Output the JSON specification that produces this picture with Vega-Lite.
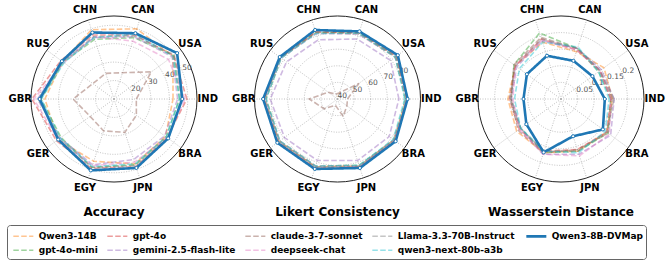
{
"$schema": "https://vega.github.io/schema/vega-lite/v6.json",
"padding": {"left": 6, "top": 0, "right": 0, "bottom": 0},
"spacing": 10.5,
"config": {
  "font": "DejaVu Sans",
  "view": {"stroke": null},
  "legend": {"orient": "none", "legendX": 0, "legendY": 225, "direction": "horizontal", "columns": 5, "gridAlign": "each",
    "labelFont": "DejaVu Sans", "labelFontSize": 9, "labelFontWeight": "bold", "labelColor": "black", "labelLimit": 300,
    "symbolType": "M-0.7,0H2.3", "symbolSize": 178, "labelOffset": 12.7, "columnPadding": 6, "rowPadding": 0.7, "padding": 3,
    "strokeColor": "#666", "cornerRadius": 3, "fillColor": "white", "symbolStrokeWidth": 1.6}
},
"datasets": {
  "countries": [{"c":"IND"},{"c":"USA"},{"c":"CAN"},{"c":"CHN"},{"c":"RUS"},{"c":"GBR"},{"c":"GER"},{"c":"EGY"},{"c":"JPN"},{"c":"BRA"}],
  "acc": [
    {"m":"Qwen3-14B","IND":42.0,"USA":49.5,"CAN":50.0,"CHN":49.5,"RUS":44.5,"GBR":47.5,"GER":47.5,"EGY":45.5,"JPN":47.0,"BRA":44.5},
    {"m":"gpt-4o-mini","IND":45.5,"USA":50.0,"CAN":45.0,"CHN":44.0,"RUS":44.0,"GBR":49.5,"GER":45.5,"EGY":49.0,"JPN":47.5,"BRA":45.0},
    {"m":"gpt-4o","IND":49.5,"USA":50.0,"CAN":46.5,"CHN":46.5,"RUS":45.5,"GBR":54.5,"GER":48.5,"EGY":49.5,"JPN":48.5,"BRA":45.5},
    {"m":"gemini-2.5-flash-lite","IND":44.5,"USA":49.0,"CAN":45.5,"CHN":45.0,"RUS":44.5,"GBR":51.5,"GER":46.0,"EGY":47.5,"JPN":44.5,"BRA":44.0},
    {"m":"claude-3-7-sonnet","IND":22.1,"USA":35.0,"CAN":25.0,"CHN":24.6,"RUS":24.2,"GBR":32.2,"GER":26.0,"EGY":28.2,"JPN":29.0,"BRA":25.0},
    {"m":"deepseek-chat","IND":48.5,"USA":46.5,"CAN":43.0,"CHN":45.5,"RUS":43.5,"GBR":53.5,"GER":47.5,"EGY":48.0,"JPN":46.0,"BRA":45.5},
    {"m":"Llama-3.3-70B-Instruct","IND":46.5,"USA":50.5,"CAN":46.0,"CHN":45.5,"RUS":44.5,"GBR":51.0,"GER":46.5,"EGY":49.0,"JPN":48.0,"BRA":46.5},
    {"m":"qwen3-next-80b-a3b","IND":45.5,"USA":49.5,"CAN":47.0,"CHN":45.0,"RUS":43.5,"GBR":49.5,"GER":46.0,"EGY":48.5,"JPN":47.0,"BRA":45.0},
    {"m":"Qwen3-8B-DVMap","IND":47.0,"USA":52.3,"CAN":47.5,"CHN":47.9,"RUS":44.9,"GBR":50.3,"GER":47.4,"EGY":50.7,"JPN":49.3,"BRA":46.3}
  ],
  "lik": [
    {"m":"Qwen3-14B","IND":81.5,"USA":83.5,"CAN":82.0,"CHN":82.5,"RUS":82.5,"GBR":84.0,"GER":83.5,"EGY":83.0,"JPN":82.5,"BRA":82.0},
    {"m":"gpt-4o-mini","IND":81.0,"USA":83.0,"CAN":81.5,"CHN":82.0,"RUS":82.0,"GBR":83.0,"GER":83.0,"EGY":82.5,"JPN":82.0,"BRA":82.0},
    {"m":"gpt-4o","IND":82.0,"USA":84.0,"CAN":82.0,"CHN":82.5,"RUS":82.5,"GBR":84.5,"GER":84.0,"EGY":83.5,"JPN":83.0,"BRA":82.5},
    {"m":"gemini-2.5-flash-lite","IND":77.0,"USA":79.5,"CAN":78.0,"CHN":77.5,"RUS":78.0,"GBR":80.5,"GER":79.5,"EGY":79.0,"JPN":79.0,"BRA":78.5},
    {"m":"claude-3-7-sonnet","IND":46,"USA":56,"CAN":44,"CHN":43,"RUS":47,"GBR":57,"GER":50,"EGY":44,"JPN":51,"BRA":47},
    {"m":"deepseek-chat","IND":81.5,"USA":83.0,"CAN":81.0,"CHN":81.5,"RUS":82.0,"GBR":83.5,"GER":83.0,"EGY":82.5,"JPN":82.5,"BRA":82.0},
    {"m":"Llama-3.3-70B-Instruct","IND":82.5,"USA":83.5,"CAN":82.0,"CHN":82.0,"RUS":82.5,"GBR":83.5,"GER":83.5,"EGY":83.0,"JPN":82.5,"BRA":82.0},
    {"m":"qwen3-next-80b-a3b","IND":80.5,"USA":83.0,"CAN":81.5,"CHN":81.5,"RUS":82.0,"GBR":83.0,"GER":83.0,"EGY":82.5,"JPN":82.0,"BRA":81.5},
    {"m":"Qwen3-8B-DVMap","IND":82.2,"USA":84.9,"CAN":82.8,"CHN":83.7,"RUS":83.0,"GBR":84.8,"GER":84.8,"EGY":84.3,"JPN":83.7,"BRA":83.3}
  ],
  "was": [
    {"m":"Qwen3-14B","IND":0.155,"USA":0.160,"CAN":0.150,"CHN":0.180,"RUS":0.170,"GBR":0.160,"GER":0.165,"EGY":0.170,"JPN":0.165,"BRA":0.170},
    {"m":"gpt-4o-mini","IND":0.150,"USA":0.140,"CAN":0.160,"CHN":0.209,"RUS":0.175,"GBR":0.150,"GER":0.150,"EGY":0.170,"JPN":0.165,"BRA":0.175},
    {"m":"gpt-4o","IND":0.150,"USA":0.145,"CAN":0.155,"CHN":0.190,"RUS":0.170,"GBR":0.155,"GER":0.155,"EGY":0.165,"JPN":0.160,"BRA":0.170},
    {"m":"gemini-2.5-flash-lite","IND":0.160,"USA":0.150,"CAN":0.160,"CHN":0.185,"RUS":0.165,"GBR":0.150,"GER":0.150,"EGY":0.175,"JPN":0.175,"BRA":0.185},
    {"m":"claude-3-7-sonnet","IND":0.155,"USA":0.145,"CAN":0.160,"CHN":0.195,"RUS":0.175,"GBR":0.150,"GER":0.160,"EGY":0.170,"JPN":0.160,"BRA":0.175},
    {"m":"deepseek-chat","IND":0.150,"USA":0.145,"CAN":0.155,"CHN":0.185,"RUS":0.170,"GBR":0.145,"GER":0.155,"EGY":0.175,"JPN":0.180,"BRA":0.180},
    {"m":"Llama-3.3-70B-Instruct","IND":0.160,"USA":0.145,"CAN":0.160,"CHN":0.190,"RUS":0.170,"GBR":0.155,"GER":0.150,"EGY":0.165,"JPN":0.165,"BRA":0.170},
    {"m":"qwen3-next-80b-a3b","IND":0.145,"USA":0.140,"CAN":0.165,"CHN":0.180,"RUS":0.155,"GBR":0.140,"GER":0.150,"EGY":0.165,"JPN":0.170,"BRA":0.165},
    {"m":"Qwen3-8B-DVMap","IND":0.132,"USA":0.117,"CAN":0.121,"CHN":0.137,"RUS":0.127,"GBR":0.113,"GER":0.129,"EGY":0.169,"JPN":0.118,"BRA":0.156}
  ]
},
"resolve": {"scale": {"x": "independent", "y": "independent", "size": "independent", "color": "shared", "strokeDash": "shared", "strokeWidth": "shared", "opacity": "shared"}},
"hconcat": [
 {
  "width": 214, "height": 198,
  "title": {"text": "Accuracy", "orient": "bottom", "offset": 9, "fontSize": 12, "fontWeight": "bold", "font": "DejaVu Sans", "color": "black"},
  "layer": [
   {"data": {"values": [{"t":20},{"t":30},{"t":40},{"t":50}]},
    "transform": [{"calculate": "(datum.t - 10) / 45", "as": "d"}, {"calculate": "0", "as": "z"}],
    "mark": {"type": "point", "shape": "circle", "filled": false, "stroke": "#b0b0b0", "strokeDash": [1, 1.5], "strokeWidth": 0.8, "opacity": 1},
    "encoding": {"x": {"field": "z", "type": "quantitative", "scale": {"domain": [-1.28916, 1.28916], "nice": false, "zero": false}, "axis": null},
                 "y": {"field": "z", "type": "quantitative", "scale": {"domain": [-1.19277, 1.19277], "nice": false, "zero": false}, "axis": null},
                 "size": {"field": "d", "type": "quantitative", "legend": null, "scale": {"type": "pow", "exponent": 2, "domain": [0, 1], "range": [0, 27556]}}}},
   {"data": {"values": [{"t":55}]},
    "transform": [{"calculate": "(datum.t - 10) / 45", "as": "d"}, {"calculate": "0", "as": "z"}],
    "mark": {"type": "point", "shape": "circle", "filled": false, "stroke": "#222", "strokeWidth": 1, "opacity": 1},
    "encoding": {"x": {"field": "z", "type": "quantitative", "scale": {"domain": [-1.28916, 1.28916], "nice": false, "zero": false}, "axis": null},
                 "y": {"field": "z", "type": "quantitative", "scale": {"domain": [-1.19277, 1.19277], "nice": false, "zero": false}, "axis": null},
                 "size": {"field": "d", "type": "quantitative", "legend": null, "scale": {"type": "pow", "exponent": 2, "domain": [0, 1], "range": [0, 27556]}}}},
   {"data": {"name": "countries"},
    "transform": [{"calculate": "indexof(['IND','USA','CAN','CHN','RUS','GBR','GER','EGY','JPN','BRA'], datum.c) * PI / 5", "as": "a"},
                  {"calculate": "cos(datum.a)", "as": "x"}, {"calculate": "sin(datum.a)", "as": "y"}, {"calculate": "0", "as": "z"}],
    "mark": {"type": "rule", "stroke": "#b0b0b0", "strokeDash": [1, 1.5], "strokeWidth": 0.8},
    "encoding": {"x": {"field": "z", "type": "quantitative", "scale": {"domain": [-1.28916, 1.28916], "nice": false, "zero": false}, "axis": null},
                 "y": {"field": "z", "type": "quantitative", "scale": {"domain": [-1.19277, 1.19277], "nice": false, "zero": false}, "axis": null},
                 "x2": {"field": "x"}, "y2": {"field": "y"}}},
   {"data": {"name": "countries"},
    "transform": [{"calculate": "indexof(['IND','USA','CAN','CHN','RUS','GBR','GER','EGY','JPN','BRA'], datum.c) * PI / 5", "as": "a"},
                  {"calculate": "1.13 * cos(datum.a)", "as": "x"}, {"calculate": "1.13 * sin(datum.a)", "as": "y"}],
    "mark": {"type": "text", "fontSize": 10, "fontWeight": "bold", "color": "black", "align": "center", "baseline": "middle"},
    "encoding": {"x": {"field": "x", "type": "quantitative", "scale": {"domain": [-1.28916, 1.28916], "nice": false, "zero": false}, "axis": null},
                 "y": {"field": "y", "type": "quantitative", "scale": {"domain": [-1.19277, 1.19277], "nice": false, "zero": false}, "axis": null},
                 "text": {"field": "c", "type": "nominal"}}},
   {"data": {"values": [{"t":20},{"t":30},{"t":40},{"t":50}]},
    "transform": [{"calculate": "(datum.t - 10) / 45", "as": "d"},
                  {"calculate": "datum.d * cos(PI / 8)", "as": "x"}, {"calculate": "datum.d * sin(PI / 8)", "as": "y"}],
    "mark": {"type": "text", "fontSize": 7.5, "color": "#555", "align": "left", "baseline": "bottom", "dy": 1},
    "encoding": {"x": {"field": "x", "type": "quantitative", "scale": {"domain": [-1.28916, 1.28916], "nice": false, "zero": false}, "axis": null},
                 "y": {"field": "y", "type": "quantitative", "scale": {"domain": [-1.19277, 1.19277], "nice": false, "zero": false}, "axis": null},
                 "text": {"field": "t", "type": "quantitative", "format": "~g"}}},
   {"data": {"name": "acc"},
    "transform": [{"fold": ["IND","USA","CAN","CHN","RUS","GBR","GER","EGY","JPN","BRA"], "as": ["country", "value"]},
                  {"calculate": "indexof(['IND','USA','CAN','CHN','RUS','GBR','GER','EGY','JPN','BRA'], datum.country)", "as": "i"},
                  {"calculate": "(datum.value - 10) / 45", "as": "d"},
                  {"calculate": "datum.d * cos(datum.i * PI / 5)", "as": "x"},
                  {"calculate": "datum.d * sin(datum.i * PI / 5)", "as": "y"}],
    "encoding": {"x": {"field": "x", "type": "quantitative", "scale": {"domain": [-1.28916, 1.28916], "nice": false, "zero": false}, "axis": null},
                 "y": {"field": "y", "type": "quantitative", "scale": {"domain": [-1.19277, 1.19277], "nice": false, "zero": false}, "axis": null}},
    "layer": [
     {"transform": [{"filter": "datum.m != 'Qwen3-8B-DVMap'"}],
      "mark": {"type": "line", "interpolate": "linear-closed"},
      "encoding": {
        "color": {"field": "m", "type": "nominal", "title": null, "scale": {"domain": ["Qwen3-14B","gpt-4o","claude-3-7-sonnet","Llama-3.3-70B-Instruct","Qwen3-8B-DVMap","gpt-4o-mini","gemini-2.5-flash-lite","deepseek-chat","qwen3-next-80b-a3b"], "range": ["#ff7f0e","#d62728","#8c564b","#7f7f7f","#1f77b4","#2ca02c","#9467bd","#e377c2","#17becf"]}},
        "strokeDash": {"field": "m", "type": "nominal", "title": null, "scale": {"domain": ["Qwen3-14B","gpt-4o","claude-3-7-sonnet","Llama-3.3-70B-Instruct","Qwen3-8B-DVMap","gpt-4o-mini","gemini-2.5-flash-lite","deepseek-chat","qwen3-next-80b-a3b"], "range": [[5.5,2.4],[5.5,2.4],[5.5,2.4],[5.5,2.4],[1,0],[5.5,2.4],[5.5,2.4],[5.5,2.4],[5.5,2.4]]}},
        "strokeWidth": {"field": "m", "type": "nominal", "title": null, "scale": {"type": "ordinal", "domain": ["Qwen3-14B","gpt-4o","claude-3-7-sonnet","Llama-3.3-70B-Instruct","Qwen3-8B-DVMap","gpt-4o-mini","gemini-2.5-flash-lite","deepseek-chat","qwen3-next-80b-a3b"], "range": [1.6,1.6,1.6,1.6,2.6,1.6,1.6,1.6,1.6]}},
        "opacity": {"field": "m", "type": "nominal", "title": null, "scale": {"type": "ordinal", "domain": ["Qwen3-14B","gpt-4o","claude-3-7-sonnet","Llama-3.3-70B-Instruct","Qwen3-8B-DVMap","gpt-4o-mini","gemini-2.5-flash-lite","deepseek-chat","qwen3-next-80b-a3b"], "range": [0.45,0.45,0.45,0.45,1,0.45,0.45,0.45,0.45]}},
        "order": {"field": "i", "type": "quantitative"}}},
     {"transform": [{"filter": "datum.m == 'Qwen3-8B-DVMap'"}],
      "mark": {"type": "line", "interpolate": "linear-closed"},
      "encoding": {
        "color": {"field": "m", "type": "nominal", "title": null, "scale": {"domain": ["Qwen3-14B","gpt-4o","claude-3-7-sonnet","Llama-3.3-70B-Instruct","Qwen3-8B-DVMap","gpt-4o-mini","gemini-2.5-flash-lite","deepseek-chat","qwen3-next-80b-a3b"], "range": ["#ff7f0e","#d62728","#8c564b","#7f7f7f","#1f77b4","#2ca02c","#9467bd","#e377c2","#17becf"]}},
        "strokeDash": {"field": "m", "type": "nominal", "title": null, "scale": {"domain": ["Qwen3-14B","gpt-4o","claude-3-7-sonnet","Llama-3.3-70B-Instruct","Qwen3-8B-DVMap","gpt-4o-mini","gemini-2.5-flash-lite","deepseek-chat","qwen3-next-80b-a3b"], "range": [[5.5,2.4],[5.5,2.4],[5.5,2.4],[5.5,2.4],[1,0],[5.5,2.4],[5.5,2.4],[5.5,2.4],[5.5,2.4]]}},
        "strokeWidth": {"field": "m", "type": "nominal", "title": null, "scale": {"type": "ordinal", "domain": ["Qwen3-14B","gpt-4o","claude-3-7-sonnet","Llama-3.3-70B-Instruct","Qwen3-8B-DVMap","gpt-4o-mini","gemini-2.5-flash-lite","deepseek-chat","qwen3-next-80b-a3b"], "range": [1.6,1.6,1.6,1.6,2.6,1.6,1.6,1.6,1.6]}},
        "opacity": {"field": "m", "type": "nominal", "title": null, "scale": {"type": "ordinal", "domain": ["Qwen3-14B","gpt-4o","claude-3-7-sonnet","Llama-3.3-70B-Instruct","Qwen3-8B-DVMap","gpt-4o-mini","gemini-2.5-flash-lite","deepseek-chat","qwen3-next-80b-a3b"], "range": [0.45,0.45,0.45,0.45,1,0.45,0.45,0.45,0.45]}},
        "order": {"field": "i", "type": "quantitative"}}},
     {"transform": [{"filter": "datum.m == 'Qwen3-8B-DVMap'"}],
      "mark": {"type": "point", "shape": "circle", "filled": true, "fill": "white", "stroke": "#1f77b4", "strokeWidth": 1, "size": 10, "opacity": 1}}
    ]}
  ]
 },
 {
  "width": 212, "height": 198,
  "title": {"text": "Likert Consistency", "orient": "bottom", "offset": 9, "fontSize": 12, "fontWeight": "bold", "font": "DejaVu Sans", "color": "black"},
  "layer": [
   {"data": {"values": [{"t":40},{"t":50},{"t":60},{"t":70},{"t":80}]},
    "transform": [{"calculate": "(datum.t - 40) / 50", "as": "d"}, {"calculate": "0", "as": "z"}],
    "mark": {"type": "point", "shape": "circle", "filled": false, "stroke": "#b0b0b0", "strokeDash": [1, 1.5], "strokeWidth": 0.8, "opacity": 1},
    "encoding": {"x": {"field": "z", "type": "quantitative", "scale": {"domain": [-1.27711, 1.27711], "nice": false, "zero": false}, "axis": null},
                 "y": {"field": "z", "type": "quantitative", "scale": {"domain": [-1.19277, 1.19277], "nice": false, "zero": false}, "axis": null},
                 "size": {"field": "d", "type": "quantitative", "legend": null, "scale": {"type": "pow", "exponent": 2, "domain": [0, 1], "range": [0, 27556]}}}},
   {"data": {"values": [{"t":90}]},
    "transform": [{"calculate": "(datum.t - 40) / 50", "as": "d"}, {"calculate": "0", "as": "z"}],
    "mark": {"type": "point", "shape": "circle", "filled": false, "stroke": "#222", "strokeWidth": 1, "opacity": 1},
    "encoding": {"x": {"field": "z", "type": "quantitative", "scale": {"domain": [-1.27711, 1.27711], "nice": false, "zero": false}, "axis": null},
                 "y": {"field": "z", "type": "quantitative", "scale": {"domain": [-1.19277, 1.19277], "nice": false, "zero": false}, "axis": null},
                 "size": {"field": "d", "type": "quantitative", "legend": null, "scale": {"type": "pow", "exponent": 2, "domain": [0, 1], "range": [0, 27556]}}}},
   {"data": {"name": "countries"},
    "transform": [{"calculate": "indexof(['IND','USA','CAN','CHN','RUS','GBR','GER','EGY','JPN','BRA'], datum.c) * PI / 5", "as": "a"},
                  {"calculate": "cos(datum.a)", "as": "x"}, {"calculate": "sin(datum.a)", "as": "y"}, {"calculate": "0", "as": "z"}],
    "mark": {"type": "rule", "stroke": "#b0b0b0", "strokeDash": [1, 1.5], "strokeWidth": 0.8},
    "encoding": {"x": {"field": "z", "type": "quantitative", "scale": {"domain": [-1.27711, 1.27711], "nice": false, "zero": false}, "axis": null},
                 "y": {"field": "z", "type": "quantitative", "scale": {"domain": [-1.19277, 1.19277], "nice": false, "zero": false}, "axis": null},
                 "x2": {"field": "x"}, "y2": {"field": "y"}}},
   {"data": {"name": "countries"},
    "transform": [{"calculate": "indexof(['IND','USA','CAN','CHN','RUS','GBR','GER','EGY','JPN','BRA'], datum.c) * PI / 5", "as": "a"},
                  {"calculate": "1.13 * cos(datum.a)", "as": "x"}, {"calculate": "1.13 * sin(datum.a)", "as": "y"}],
    "mark": {"type": "text", "fontSize": 10, "fontWeight": "bold", "color": "black", "align": "center", "baseline": "middle"},
    "encoding": {"x": {"field": "x", "type": "quantitative", "scale": {"domain": [-1.27711, 1.27711], "nice": false, "zero": false}, "axis": null},
                 "y": {"field": "y", "type": "quantitative", "scale": {"domain": [-1.19277, 1.19277], "nice": false, "zero": false}, "axis": null},
                 "text": {"field": "c", "type": "nominal"}}},
   {"data": {"values": [{"t":40},{"t":50},{"t":60},{"t":70},{"t":80}]},
    "transform": [{"calculate": "(datum.t - 40) / 50", "as": "d"},
                  {"calculate": "datum.d * cos(PI / 8)", "as": "x"}, {"calculate": "datum.d * sin(PI / 8)", "as": "y"}],
    "mark": {"type": "text", "fontSize": 7.5, "color": "#555", "align": "left", "baseline": "bottom", "dy": 1},
    "encoding": {"x": {"field": "x", "type": "quantitative", "scale": {"domain": [-1.27711, 1.27711], "nice": false, "zero": false}, "axis": null},
                 "y": {"field": "y", "type": "quantitative", "scale": {"domain": [-1.19277, 1.19277], "nice": false, "zero": false}, "axis": null},
                 "text": {"field": "t", "type": "quantitative", "format": "~g"}}},
   {"data": {"name": "lik"},
    "transform": [{"fold": ["IND","USA","CAN","CHN","RUS","GBR","GER","EGY","JPN","BRA"], "as": ["country", "value"]},
                  {"calculate": "indexof(['IND','USA','CAN','CHN','RUS','GBR','GER','EGY','JPN','BRA'], datum.country)", "as": "i"},
                  {"calculate": "(datum.value - 40) / 50", "as": "d"},
                  {"calculate": "datum.d * cos(datum.i * PI / 5)", "as": "x"},
                  {"calculate": "datum.d * sin(datum.i * PI / 5)", "as": "y"}],
    "encoding": {"x": {"field": "x", "type": "quantitative", "scale": {"domain": [-1.27711, 1.27711], "nice": false, "zero": false}, "axis": null},
                 "y": {"field": "y", "type": "quantitative", "scale": {"domain": [-1.19277, 1.19277], "nice": false, "zero": false}, "axis": null}},
    "layer": [
     {"transform": [{"filter": "datum.m != 'Qwen3-8B-DVMap'"}],
      "mark": {"type": "line", "interpolate": "linear-closed"},
      "encoding": {
        "color": {"field": "m", "type": "nominal", "title": null, "scale": {"domain": ["Qwen3-14B","gpt-4o","claude-3-7-sonnet","Llama-3.3-70B-Instruct","Qwen3-8B-DVMap","gpt-4o-mini","gemini-2.5-flash-lite","deepseek-chat","qwen3-next-80b-a3b"], "range": ["#ff7f0e","#d62728","#8c564b","#7f7f7f","#1f77b4","#2ca02c","#9467bd","#e377c2","#17becf"]}},
        "strokeDash": {"field": "m", "type": "nominal", "title": null, "scale": {"domain": ["Qwen3-14B","gpt-4o","claude-3-7-sonnet","Llama-3.3-70B-Instruct","Qwen3-8B-DVMap","gpt-4o-mini","gemini-2.5-flash-lite","deepseek-chat","qwen3-next-80b-a3b"], "range": [[5.5,2.4],[5.5,2.4],[5.5,2.4],[5.5,2.4],[1,0],[5.5,2.4],[5.5,2.4],[5.5,2.4],[5.5,2.4]]}},
        "strokeWidth": {"field": "m", "type": "nominal", "title": null, "scale": {"type": "ordinal", "domain": ["Qwen3-14B","gpt-4o","claude-3-7-sonnet","Llama-3.3-70B-Instruct","Qwen3-8B-DVMap","gpt-4o-mini","gemini-2.5-flash-lite","deepseek-chat","qwen3-next-80b-a3b"], "range": [1.6,1.6,1.6,1.6,2.6,1.6,1.6,1.6,1.6]}},
        "opacity": {"field": "m", "type": "nominal", "title": null, "scale": {"type": "ordinal", "domain": ["Qwen3-14B","gpt-4o","claude-3-7-sonnet","Llama-3.3-70B-Instruct","Qwen3-8B-DVMap","gpt-4o-mini","gemini-2.5-flash-lite","deepseek-chat","qwen3-next-80b-a3b"], "range": [0.45,0.45,0.45,0.45,1,0.45,0.45,0.45,0.45]}},
        "order": {"field": "i", "type": "quantitative"}}},
     {"transform": [{"filter": "datum.m == 'Qwen3-8B-DVMap'"}],
      "mark": {"type": "line", "interpolate": "linear-closed"},
      "encoding": {
        "color": {"field": "m", "type": "nominal", "title": null, "scale": {"domain": ["Qwen3-14B","gpt-4o","claude-3-7-sonnet","Llama-3.3-70B-Instruct","Qwen3-8B-DVMap","gpt-4o-mini","gemini-2.5-flash-lite","deepseek-chat","qwen3-next-80b-a3b"], "range": ["#ff7f0e","#d62728","#8c564b","#7f7f7f","#1f77b4","#2ca02c","#9467bd","#e377c2","#17becf"]}},
        "strokeDash": {"field": "m", "type": "nominal", "title": null, "scale": {"domain": ["Qwen3-14B","gpt-4o","claude-3-7-sonnet","Llama-3.3-70B-Instruct","Qwen3-8B-DVMap","gpt-4o-mini","gemini-2.5-flash-lite","deepseek-chat","qwen3-next-80b-a3b"], "range": [[5.5,2.4],[5.5,2.4],[5.5,2.4],[5.5,2.4],[1,0],[5.5,2.4],[5.5,2.4],[5.5,2.4],[5.5,2.4]]}},
        "strokeWidth": {"field": "m", "type": "nominal", "title": null, "scale": {"type": "ordinal", "domain": ["Qwen3-14B","gpt-4o","claude-3-7-sonnet","Llama-3.3-70B-Instruct","Qwen3-8B-DVMap","gpt-4o-mini","gemini-2.5-flash-lite","deepseek-chat","qwen3-next-80b-a3b"], "range": [1.6,1.6,1.6,1.6,2.6,1.6,1.6,1.6,1.6]}},
        "opacity": {"field": "m", "type": "nominal", "title": null, "scale": {"type": "ordinal", "domain": ["Qwen3-14B","gpt-4o","claude-3-7-sonnet","Llama-3.3-70B-Instruct","Qwen3-8B-DVMap","gpt-4o-mini","gemini-2.5-flash-lite","deepseek-chat","qwen3-next-80b-a3b"], "range": [0.45,0.45,0.45,0.45,1,0.45,0.45,0.45,0.45]}},
        "order": {"field": "i", "type": "quantitative"}}},
     {"transform": [{"filter": "datum.m == 'Qwen3-8B-DVMap'"}],
      "mark": {"type": "point", "shape": "circle", "filled": true, "fill": "white", "stroke": "#1f77b4", "strokeWidth": 1, "size": 10, "opacity": 1}}
    ]}
  ]
 },
 {
  "width": 214, "height": 198,
  "title": {"text": "Wasserstein Distance", "orient": "bottom", "offset": 9, "fontSize": 12, "fontWeight": "bold", "font": "DejaVu Sans", "color": "black"},
  "layer": [
   {"data": {"values": [{"t":0.05},{"t":0.1},{"t":0.15},{"t":0.2}]},
    "transform": [{"calculate": "datum.t / 0.25", "as": "d"}, {"calculate": "0", "as": "z"}],
    "mark": {"type": "point", "shape": "circle", "filled": false, "stroke": "#b0b0b0", "strokeDash": [1, 1.5], "strokeWidth": 0.8, "opacity": 1},
    "encoding": {"x": {"field": "z", "type": "quantitative", "scale": {"domain": [-1.28916, 1.28916], "nice": false, "zero": false}, "axis": null},
                 "y": {"field": "z", "type": "quantitative", "scale": {"domain": [-1.19277, 1.19277], "nice": false, "zero": false}, "axis": null},
                 "size": {"field": "d", "type": "quantitative", "legend": null, "scale": {"type": "pow", "exponent": 2, "domain": [0, 1], "range": [0, 27556]}}}},
   {"data": {"values": [{"t":0.25}]},
    "transform": [{"calculate": "datum.t / 0.25", "as": "d"}, {"calculate": "0", "as": "z"}],
    "mark": {"type": "point", "shape": "circle", "filled": false, "stroke": "#222", "strokeWidth": 1, "opacity": 1},
    "encoding": {"x": {"field": "z", "type": "quantitative", "scale": {"domain": [-1.28916, 1.28916], "nice": false, "zero": false}, "axis": null},
                 "y": {"field": "z", "type": "quantitative", "scale": {"domain": [-1.19277, 1.19277], "nice": false, "zero": false}, "axis": null},
                 "size": {"field": "d", "type": "quantitative", "legend": null, "scale": {"type": "pow", "exponent": 2, "domain": [0, 1], "range": [0, 27556]}}}},
   {"data": {"name": "countries"},
    "transform": [{"calculate": "indexof(['IND','USA','CAN','CHN','RUS','GBR','GER','EGY','JPN','BRA'], datum.c) * PI / 5", "as": "a"},
                  {"calculate": "cos(datum.a)", "as": "x"}, {"calculate": "sin(datum.a)", "as": "y"}, {"calculate": "0", "as": "z"}],
    "mark": {"type": "rule", "stroke": "#b0b0b0", "strokeDash": [1, 1.5], "strokeWidth": 0.8},
    "encoding": {"x": {"field": "z", "type": "quantitative", "scale": {"domain": [-1.28916, 1.28916], "nice": false, "zero": false}, "axis": null},
                 "y": {"field": "z", "type": "quantitative", "scale": {"domain": [-1.19277, 1.19277], "nice": false, "zero": false}, "axis": null},
                 "x2": {"field": "x"}, "y2": {"field": "y"}}},
   {"data": {"name": "countries"},
    "transform": [{"calculate": "indexof(['IND','USA','CAN','CHN','RUS','GBR','GER','EGY','JPN','BRA'], datum.c) * PI / 5", "as": "a"},
                  {"calculate": "1.13 * cos(datum.a)", "as": "x"}, {"calculate": "1.13 * sin(datum.a)", "as": "y"}],
    "mark": {"type": "text", "fontSize": 10, "fontWeight": "bold", "color": "black", "align": "center", "baseline": "middle"},
    "encoding": {"x": {"field": "x", "type": "quantitative", "scale": {"domain": [-1.28916, 1.28916], "nice": false, "zero": false}, "axis": null},
                 "y": {"field": "y", "type": "quantitative", "scale": {"domain": [-1.19277, 1.19277], "nice": false, "zero": false}, "axis": null},
                 "text": {"field": "c", "type": "nominal"}}},
   {"data": {"values": [{"t":0.05},{"t":0.1},{"t":0.15},{"t":0.2}]},
    "transform": [{"calculate": "datum.t / 0.25", "as": "d"},
                  {"calculate": "datum.d * cos(PI / 8)", "as": "x"}, {"calculate": "datum.d * sin(PI / 8)", "as": "y"}],
    "mark": {"type": "text", "fontSize": 7.5, "color": "#555", "align": "left", "baseline": "bottom", "dy": 1},
    "encoding": {"x": {"field": "x", "type": "quantitative", "scale": {"domain": [-1.28916, 1.28916], "nice": false, "zero": false}, "axis": null},
                 "y": {"field": "y", "type": "quantitative", "scale": {"domain": [-1.19277, 1.19277], "nice": false, "zero": false}, "axis": null},
                 "text": {"field": "t", "type": "quantitative", "format": "~g"}}},
   {"data": {"name": "was"},
    "transform": [{"fold": ["IND","USA","CAN","CHN","RUS","GBR","GER","EGY","JPN","BRA"], "as": ["country", "value"]},
                  {"calculate": "indexof(['IND','USA','CAN','CHN','RUS','GBR','GER','EGY','JPN','BRA'], datum.country)", "as": "i"},
                  {"calculate": "datum.value / 0.25", "as": "d"},
                  {"calculate": "datum.d * cos(datum.i * PI / 5)", "as": "x"},
                  {"calculate": "datum.d * sin(datum.i * PI / 5)", "as": "y"}],
    "encoding": {"x": {"field": "x", "type": "quantitative", "scale": {"domain": [-1.28916, 1.28916], "nice": false, "zero": false}, "axis": null},
                 "y": {"field": "y", "type": "quantitative", "scale": {"domain": [-1.19277, 1.19277], "nice": false, "zero": false}, "axis": null}},
    "layer": [
     {"transform": [{"filter": "datum.m != 'Qwen3-8B-DVMap'"}],
      "mark": {"type": "line", "interpolate": "linear-closed"},
      "encoding": {
        "color": {"field": "m", "type": "nominal", "title": null, "scale": {"domain": ["Qwen3-14B","gpt-4o","claude-3-7-sonnet","Llama-3.3-70B-Instruct","Qwen3-8B-DVMap","gpt-4o-mini","gemini-2.5-flash-lite","deepseek-chat","qwen3-next-80b-a3b"], "range": ["#ff7f0e","#d62728","#8c564b","#7f7f7f","#1f77b4","#2ca02c","#9467bd","#e377c2","#17becf"]}},
        "strokeDash": {"field": "m", "type": "nominal", "title": null, "scale": {"domain": ["Qwen3-14B","gpt-4o","claude-3-7-sonnet","Llama-3.3-70B-Instruct","Qwen3-8B-DVMap","gpt-4o-mini","gemini-2.5-flash-lite","deepseek-chat","qwen3-next-80b-a3b"], "range": [[5.5,2.4],[5.5,2.4],[5.5,2.4],[5.5,2.4],[1,0],[5.5,2.4],[5.5,2.4],[5.5,2.4],[5.5,2.4]]}},
        "strokeWidth": {"field": "m", "type": "nominal", "title": null, "scale": {"type": "ordinal", "domain": ["Qwen3-14B","gpt-4o","claude-3-7-sonnet","Llama-3.3-70B-Instruct","Qwen3-8B-DVMap","gpt-4o-mini","gemini-2.5-flash-lite","deepseek-chat","qwen3-next-80b-a3b"], "range": [1.6,1.6,1.6,1.6,2.6,1.6,1.6,1.6,1.6]}},
        "opacity": {"field": "m", "type": "nominal", "title": null, "scale": {"type": "ordinal", "domain": ["Qwen3-14B","gpt-4o","claude-3-7-sonnet","Llama-3.3-70B-Instruct","Qwen3-8B-DVMap","gpt-4o-mini","gemini-2.5-flash-lite","deepseek-chat","qwen3-next-80b-a3b"], "range": [0.45,0.45,0.45,0.45,1,0.45,0.45,0.45,0.45]}},
        "order": {"field": "i", "type": "quantitative"}}},
     {"transform": [{"filter": "datum.m == 'Qwen3-8B-DVMap'"}],
      "mark": {"type": "line", "interpolate": "linear-closed"},
      "encoding": {
        "color": {"field": "m", "type": "nominal", "title": null, "scale": {"domain": ["Qwen3-14B","gpt-4o","claude-3-7-sonnet","Llama-3.3-70B-Instruct","Qwen3-8B-DVMap","gpt-4o-mini","gemini-2.5-flash-lite","deepseek-chat","qwen3-next-80b-a3b"], "range": ["#ff7f0e","#d62728","#8c564b","#7f7f7f","#1f77b4","#2ca02c","#9467bd","#e377c2","#17becf"]}},
        "strokeDash": {"field": "m", "type": "nominal", "title": null, "scale": {"domain": ["Qwen3-14B","gpt-4o","claude-3-7-sonnet","Llama-3.3-70B-Instruct","Qwen3-8B-DVMap","gpt-4o-mini","gemini-2.5-flash-lite","deepseek-chat","qwen3-next-80b-a3b"], "range": [[5.5,2.4],[5.5,2.4],[5.5,2.4],[5.5,2.4],[1,0],[5.5,2.4],[5.5,2.4],[5.5,2.4],[5.5,2.4]]}},
        "strokeWidth": {"field": "m", "type": "nominal", "title": null, "scale": {"type": "ordinal", "domain": ["Qwen3-14B","gpt-4o","claude-3-7-sonnet","Llama-3.3-70B-Instruct","Qwen3-8B-DVMap","gpt-4o-mini","gemini-2.5-flash-lite","deepseek-chat","qwen3-next-80b-a3b"], "range": [1.6,1.6,1.6,1.6,2.6,1.6,1.6,1.6,1.6]}},
        "opacity": {"field": "m", "type": "nominal", "title": null, "scale": {"type": "ordinal", "domain": ["Qwen3-14B","gpt-4o","claude-3-7-sonnet","Llama-3.3-70B-Instruct","Qwen3-8B-DVMap","gpt-4o-mini","gemini-2.5-flash-lite","deepseek-chat","qwen3-next-80b-a3b"], "range": [0.45,0.45,0.45,0.45,1,0.45,0.45,0.45,0.45]}},
        "order": {"field": "i", "type": "quantitative"}}},
     {"transform": [{"filter": "datum.m == 'Qwen3-8B-DVMap'"}],
      "mark": {"type": "point", "shape": "circle", "filled": true, "fill": "white", "stroke": "#1f77b4", "strokeWidth": 1, "size": 10, "opacity": 1}}
    ]}
  ]
 }
]
}
